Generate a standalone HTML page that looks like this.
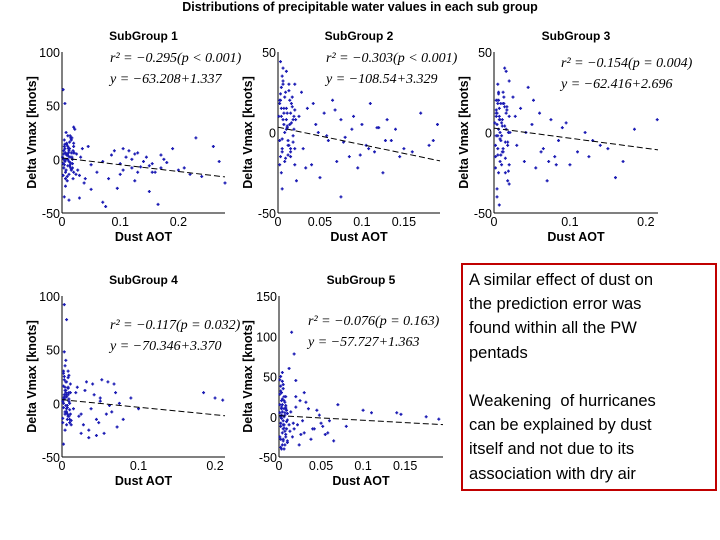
<!DOCTYPE html>
<html><head><meta charset="utf-8"><style>
body{margin:0;background:#fff;width:720px;height:540px;overflow:hidden;position:relative;font-family:"Liberation Sans",Arial,sans-serif}
#note{position:absolute;left:461px;top:263px;width:256px;height:228px;border:2.5px solid #c00000;box-sizing:border-box;padding:3px 0 0 6px;font-family:"Liberation Sans",sans-serif;font-size:16.5px;line-height:24.2px;color:#000;white-space:nowrap}
</style></head><body>
<svg id="chart" width="720" height="540" style="position:absolute;left:0;top:0"></svg>
<div id="note">A similar effect of dust on<br>the prediction error was<br>found within all the PW<br>pentads<br><br>Weakening&nbsp; of hurricanes<br>can be explained by dust<br>itself and not due to its<br>association with dry air</div>
<script>
const x1=[0.003,0.005,0.004,0.008,0.01,0.012,0.006,0.015,0.02,0.018,0.025,0.03,0.002,0.007,0.009,0.011,0.014,0.016,0.022,0.027,0.035,0.04,0.045,0.05,0.003,0.006,0.01,0.013,0.019,0.024,0.032,0.038,0.06,0.07,0.08,0.09,0.1,0.11,0.12,0.13,0.14,0.15,0.16,0.17,0.18,0.19,0.2,0.22,0.24,0.26,0.27,0.28,0.075,0.095,0.105,0.125,0.135,0.155,0.175,0.21,0.23,0.004,0.005,0.02,0.07,0.165,0.15,0.05,0.03,0.012,
0.001,0.002,0.003,0.004,0.005,0.006,0.007,0.008,0.009,0.01,0.011,0.012,0.013,0.014,0.015,0.016,0.017,0.018,0.019,0.02,0.002,0.004,0.006,0.008,0.01,0.012,0.014,0.016,0.018,0.02,0.003,0.005,0.007,0.009,0.011,0.013,0.015,0.017,0.019,0.021,0.085,0.105,0.115,0.12,0.13,0.145,0.155,0.17,0.125,0.1];
const y1=[5,10,-5,15,0,8,-12,20,12,-8,5,-15,65,25,-20,3,-3,18,28,-10,10,-18,12,-5,0,-25,22,-6,6,-14,2,-22,-12,-2,-18,8,-4,2,-8,6,-2,-6,-12,4,-3,10,-10,-14,-16,12,-2,-22,-44,-27,10,-20,-7,-12,0,-8,20,-35,52,30,-40,-42,-30,-28,-36,-38,
2,-4,8,12,-2,6,-10,14,4,-6,10,-14,16,2,-8,6,20,-4,8,-12,-15,18,-18,4,12,-2,22,-10,0,15,-8,14,0,-16,6,10,-4,2,-18,6,4,-10,8,0,-12,2,-4,-8,5,-14];
const x2=[0.002,0.004,0.005,0.006,0.008,0.01,0.003,0.007,0.009,0.012,0.015,0.018,0.02,0.005,0.004,0.006,0.011,0.013,0.002,0.008,0.025,0.03,0.035,0.04,0.045,0.05,0.055,0.06,0.065,0.07,0.075,0.08,0.085,0.09,0.095,0.1,0.105,0.11,0.115,0.12,0.125,0.13,0.135,0.14,0.145,0.15,0.16,0.17,0.18,0.185,0.19,0.022,0.028,0.033,0.042,0.048,0.058,0.068,0.078,0.088,0.098,0.108,0.118,0.128,0.005,0.01,0.015,0.003,0.075,0.02,
0.001,0.002,0.003,0.004,0.005,0.006,0.007,0.008,0.009,0.01,0.011,0.012,0.013,0.014,0.015,0.016,0.017,0.018,0.019,0.02,0.002,0.004,0.006,0.008,0.01,0.012,0.014,0.016,0.018,0.02,0.003,0.005,0.007,0.009,0.011,0.013,0.015,0.017,0.019,0.021];
const y2=[20,10,-10,30,0,15,-15,5,25,-5,12,8,-20,35,-25,40,3,-8,18,22,10,-10,15,-20,5,-28,12,-5,20,-18,8,-3,-15,10,-22,5,-8,18,-12,3,-25,8,-5,2,-15,-10,-12,12,-8,-5,5,-30,25,-22,18,0,-2,14,-6,2,-14,-10,3,-5,-35,38,-12,44,-40,30,
10,-5,20,28,-12,8,15,-18,25,2,12,-8,30,5,-15,18,22,-2,10,-10,-20,15,32,0,8,-14,20,6,-6,14,24,-4,12,-16,4,26,-10,16,2,8];
const x3=[0.003,0.005,0.006,0.008,0.01,0.004,0.007,0.009,0.012,0.002,0.005,0.006,0.008,0.011,0.003,0.014,0.016,0.018,0.02,0.004,0.007,0.025,0.03,0.035,0.04,0.045,0.05,0.055,0.06,0.065,0.07,0.075,0.08,0.085,0.09,0.1,0.11,0.12,0.13,0.14,0.15,0.17,0.185,0.215,0.004,0.006,0.015,0.012,0.028,0.042,0.052,0.062,0.072,0.082,0.095,0.125,0.16,0.003,0.005,0.02,
0.001,0.002,0.003,0.004,0.005,0.006,0.007,0.008,0.009,0.01,0.011,0.012,0.013,0.014,0.015,0.016,0.017,0.018,0.019,0.02,0.002,0.004,0.006,0.008,0.01,0.012,0.014,0.016,0.018,0.02,0.003,0.005,0.007,0.009,0.011,0.013,0.015,0.017,0.019,0.021];
const y3=[10,-10,20,0,-20,5,15,-5,25,-15,30,-25,8,-12,12,40,38,-30,-32,-40,-45,22,-8,15,-18,28,5,-22,12,-10,-30,8,-15,-5,3,-20,-12,0,-5,-8,-10,-18,2,8,-35,25,-25,18,10,0,20,-12,-18,-20,6,-15,-28,-2,18,32,
6,-8,14,20,-14,2,10,-18,18,-2,8,-10,22,4,-16,12,16,-6,0,-20,-22,12,24,-4,6,-12,16,2,-8,10,20,-2,8,-14,4,18,-6,14,-24,0];
const x4=[0.002,0.004,0.005,0.006,0.008,0.01,0.003,0.007,0.009,0.012,0.002,0.005,0.006,0.008,0.011,0.004,0.003,0.006,0.015,0.02,0.025,0.03,0.035,0.04,0.045,0.05,0.055,0.06,0.065,0.07,0.075,0.08,0.09,0.1,0.018,0.022,0.028,0.032,0.038,0.042,0.048,0.052,0.058,0.062,0.068,0.072,0.185,0.2,0.21,0.003,0.004,0.005,0.002,0.01,0.008,0.045,0.035,0.05,0.025,
0.001,0.002,0.003,0.004,0.005,0.006,0.007,0.008,0.009,0.01,0.011,0.001,0.002,0.003,0.004,0.005,0.006,0.007,0.008,0.009,0.01,0.011,0.001,0.003,0.005,0.007,0.009,0.011,0.002,0.004,0.006,0.008,0.01,0.012,0.003,0.005,0.007,0.009,0.002,0.006];
const y4=[5,-10,20,-5,15,0,25,-15,10,-20,30,-8,8,-12,18,35,92,78,-5,15,-10,12,-25,18,-15,5,-28,20,-8,10,0,-15,5,-5,10,-12,-20,20,-5,8,-18,22,-10,-2,18,-22,10,5,3,48,-25,40,-38,-18,30,-30,-32,2,-28,
2,-4,8,12,-2,6,-10,14,4,-6,10,-14,16,22,-8,6,20,-4,8,-12,-15,18,-18,4,12,-2,26,-10,0,15,-8,24,0,-16,6,10,-4,2,28,-20];
const x5=[0.002,0.003,0.004,0.005,0.006,0.008,0.01,0.003,0.005,0.007,0.009,0.002,0.004,0.006,0.008,0.001,0.003,0.005,0.012,0.015,0.018,0.02,0.022,0.025,0.028,0.03,0.035,0.04,0.045,0.05,0.055,0.06,0.07,0.08,0.1,0.11,0.14,0.145,0.175,0.19,0.016,0.02,0.024,0.032,0.038,0.042,0.048,0.052,0.058,0.065,0.004,0.006,0.002,0.008,0.013,0.017,0.026,0.03,0.01,0.004,
0.001,0.002,0.003,0.004,0.005,0.006,0.007,0.008,0.009,0.01,0.001,0.002,0.003,0.004,0.005,0.006,0.007,0.008,0.009,0.01,0.001,0.002,0.003,0.004,0.005,0.006,0.007,0.008,0.002,0.004,0.006,0.003,0.005,0.007,0.001,0.002,0.012,0.014,0.018,0.02];
const y5=[0,20,-20,40,-10,10,-30,30,-5,5,-15,50,-35,25,-25,15,-40,35,60,105,78,45,-10,20,-5,-20,10,-15,8,-8,-22,-5,15,-12,8,5,5,3,0,-3,-25,25,-35,18,-28,-15,2,-12,-20,-30,55,-40,-28,12,-18,-8,-22,30,-32,44,
5,-8,12,22,-15,0,18,-22,8,-4,28,-12,2,15,-30,10,-18,25,-6,4,-25,32,-2,6,-10,20,-35,14,38,-20,-14,10,-28,2,46,-38,-10,6,-15,12];
const xTicks1=[0,0.1,0.2], xTicks2=[0,0.05,0.1,0.15], xTicks3=[0,0.1,0.2], xTicks4=[0,0.1,0.2], xTicks5=[0,0.05,0.1,0.15];
const yTicks1=[-50,0,50,100], yTicks2=[-50,0,50], yTicks3=[-50,0,50], yTicks4=[-50,0,50,100], yTicks5=[-50,0,50,100,150];
const titles=["SubGroup 1","SubGroup 2","SubGroup 3","SubGroup 4","SubGroup 5"];
const r2Text=["r² = −0.295(p < 0.001)","r² = −0.303(p < 0.001)","r² = −0.154(p = 0.004)","r² = −0.117(p = 0.032)","r² = −0.076(p = 0.163)"];
const eqText=["y = −63.208+1.337","y = −108.54+3.329","y = −62.416+2.696","y = −70.346+3.370","y = −57.727+1.363"];
const intercepts=[1.3,3.3,2.7,3.4,1.4];
const slopes=[-63.2,-108.5,-62.4,-70.3,-57.7];

const NS="http://www.w3.org/2000/svg";
const svg=document.getElementById('chart');
function mk(tag,attrs,parent){const e=document.createElementNS(NS,tag);for(const k in attrs)e.setAttribute(k,attrs[k]);(parent||svg).appendChild(e);return e;}
const t=mk('text',{x:360,y:11,'text-anchor':'middle','font-size':'12.5','font-weight':'bold'});


t.textContent="Distributions of precipitable water values in each sub group";

const panels=[
 {xs:x1,ys:y1,x0:62,xe:225,xmax:0.28,yT:52,yB:213,ymin:-50,ymax:100,xt:xTicks1,yt:yTicks1,ylx:32,eqx:110,eqy:62},
 {xs:x2,ys:y2,x0:278,xe:440,xmax:0.193,yT:52,yB:213,ymin:-50,ymax:50,xt:xTicks2,yt:yTicks2,ylx:248,eqx:326,eqy:62},
 {xs:x3,ys:y3,x0:494,xe:658,xmax:0.216,yT:52,yB:213,ymin:-50,ymax:50,xt:xTicks3,yt:yTicks3,ylx:464,eqx:561,eqy:67},
 {xs:x4,ys:y4,x0:62,xe:225,xmax:0.213,yT:296,yB:457,ymin:-50,ymax:100,xt:xTicks4,yt:yTicks4,ylx:32,eqx:110,eqy:329},
 {xs:x5,ys:y5,x0:279,xe:443,xmax:0.195,yT:296,yB:457,ymin:-50,ymax:150,xt:xTicks5,yt:yTicks5,ylx:248,eqx:308,eqy:325}
];
panels.forEach((p,i)=>{
 const g=mk('g',{});
 
 
 const sx=v=>p.x0+v/p.xmax*(p.xe-p.x0);
 const sy=v=>p.yB-(v-p.ymin)/(p.ymax-p.ymin)*(p.yB-p.yT);
 const cx=(p.x0+p.xe)/2;
 const st=mk('text',{x:cx,y:p.yT-12,'text-anchor':'middle','font-size':'12','font-weight':'bold'},g);
 
 
 st.textContent=titles[i];
 mk('line',{x1:p.x0,y1:p.yT,x2:p.x0,y2:p.yB,stroke:'#000','stroke-width':1},g);
 mk('line',{x1:p.x0,y1:p.yB,x2:p.xe,y2:p.yB,stroke:'#000','stroke-width':1},g);
 p.xt.forEach(v=>{const e=mk('text',{x:sx(v),y:p.yB+13,'text-anchor':'middle','font-size':'12.5'},g);
  
  
  e.textContent=String(v);});
 p.yt.forEach(v=>{const e=mk('text',{x:p.x0-2,y:sy(v)+5,'text-anchor':'end','font-size':'12.5'},g);
  
  
  e.textContent=String(v);});
 const xl=mk('text',{x:cx,y:p.yB+28,'text-anchor':'middle','font-size':'12.5','font-weight':'bold'},g);
 
 
 xl.textContent="Dust AOT";
 const ym=(p.yT+p.yB)/2;
 const yl=mk('text',{x:p.ylx,y:ym,'text-anchor':'middle','font-size':'12.5','font-weight':'bold',transform:`rotate(-90 ${p.ylx} ${ym})`,dy:'4'},g);
 
 
 yl.textContent="Delta Vmax [knots]";
 let d='';
 p.xs.forEach((v,k)=>{const X=sx(v),Y=sy(p.ys[k]);d+=`M${X-1.5},${Y}h3M${X},${Y-1.5}v3`;});
 const pts=mk('path',{d:d,stroke:'#1c1cb4','stroke-width':1.3},g);
 
 
 const fit=mk('line',{x1:sx(0),y1:sy(intercepts[i]),x2:sx(p.xmax),y2:sy(intercepts[i]+slopes[i]*p.xmax),stroke:'#000','stroke-width':1,'stroke-dasharray':'6,3'},g);
 
 
 const e1=mk('text',{x:p.eqx,y:p.eqy,'font-size':'14','font-family':'Liberation Serif,serif','font-style':'italic'},g);
 
 
 e1.textContent=r2Text[i];
 const e2=mk('text',{x:p.eqx,y:p.eqy+21,'font-size':'14','font-family':'Liberation Serif,serif','font-style':'italic'},g);
 
 
 e2.textContent=eqText[i];
});
</script>
</body></html>
